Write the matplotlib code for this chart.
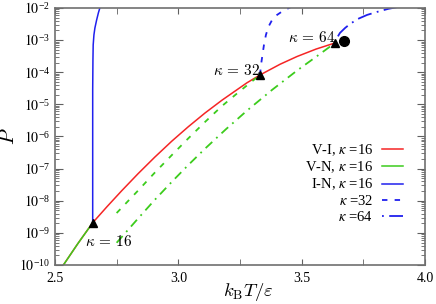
import numpy as np
import matplotlib
matplotlib.use('Agg')
import matplotlib.pyplot as plt
from matplotlib.ticker import MultipleLocator, LogLocator, FuncFormatter, NullFormatter

plt.rcParams['font.family'] = ['Liberation Serif', 'DejaVu Serif']
plt.rcParams['mathtext.fontset'] = 'stix'

# V-I coexistence, kappa = 16 (red), log10(P) vs kB T / eps
vi_T = [2.534, 2.593, 2.653, 2.711, 2.770, 2.837, 2.905, 2.974, 3.040, 3.108,
        3.177, 3.278, 3.331, 3.412, 3.481, 3.558, 3.635]
vi_logP = [-10.0, -9.33, -8.683, -8.183, -7.692, -7.156, -6.639, -6.142, -5.699, -5.270,
           -4.870, -4.330, -4.086, -3.754, -3.512, -3.281, -3.090]

# V-N kappa = 16 (green solid)
vn16_T = [2.534, 2.593, 2.653]
vn16_logP = [-10.0, -9.33, -8.683]

# V-N kappa = 32 (green dashed)
vn32_T = [2.750, 2.837, 2.905, 2.974, 3.040, 3.108, 3.177, 3.250, 3.331]
vn32_logP = [-8.381, -7.681, -7.121, -6.576, -6.062, -5.549, -5.051, -4.584, -4.086]

# V-N kappa = 64 (green dash-dot)
vn64_T = [2.750, 2.837, 2.905, 2.974, 3.040, 3.108, 3.193, 3.278, 3.380, 3.481, 3.558, 3.635]
vn64_logP = [-9.306, -8.549, -7.967, -7.407, -6.890, -6.380, -5.773, -5.197, -4.549, -3.949,
             -3.522, -3.090]

# I-N kappa = 16 (blue solid)
in16_T = [2.653, 2.653, 2.653, 2.654, 2.655, 2.658, 2.662, 2.669, 2.676, 2.682, 2.687]
in16_logP = [-8.683, -6.420, -4.553, -3.619, -3.152, -2.840, -2.623, -2.374, -2.156, -2.0, -1.94]

# I-N kappa = 32 (blue dashed)
in32_T = [3.331, 3.335, 3.341, 3.347, 3.355, 3.365, 3.380, 3.400, 3.424, 3.449, 3.473]
in32_logP = [-4.086, -3.774, -3.463, -3.152, -2.840, -2.591, -2.374, -2.218, -2.093, -2.0, -1.92]

# I-N kappa = 64 (blue dash-dot)
in64_T = [3.635, 3.643, 3.655, 3.676, 3.696, 3.728, 3.765, 3.805, 3.850, 3.890]
in64_logP = [-3.090, -2.934, -2.778, -2.623, -2.498, -2.342, -2.218, -2.125, -2.031, -1.97]

# triple points and critical point
tri_T = [2.653, 3.331, 3.635]
tri_logP = [-8.683, -4.086, -3.090]
crit_T = [3.672]
crit_logP = [-3.027]

red = '#f52525'
green = '#3ccc1c'
blue = '#2020ee'

fig = plt.figure(figsize=(4.36, 3.04), dpi=100)
ax = fig.add_axes([0.126, 0.128, 0.849, 0.846])

P = lambda l: 10.0 ** np.array(l)

ax.plot(vi_T, P(vi_logP), color=red, lw=1.1, label=r'V-I, $\kappa$ =16')
ax.plot(vn16_T, P(vn16_logP), color=green, lw=1.1, label=r'V-N, $\kappa$ =16')
ax.plot(in16_T, P(in16_logP), color=blue, lw=1.1, label=r'I-N, $\kappa$ =16')
ax.plot(vn32_T, P(vn32_logP), color=green, lw=1.3, dashes=(3, 4))
ax.plot(vn64_T, P(vn64_logP), color=green, lw=1.3, dashes=(5, 3, 1, 3))
ax.plot(in32_T, P(in32_logP), color=blue, lw=1.3, dashes=(3, 4), label=r'$\kappa$ =32')
ax.plot(in64_T, P(in64_logP), color=blue, lw=1.3, dashes=(1, 3, 8, 3), label=r'$\kappa$ =64')
ax.plot(tri_T, P(tri_logP), '^', color='black', ms=5.5, ls='none')
ax.plot(crit_T, P(crit_logP), 'o', color='black', ms=7, ls='none')

ax.text(2.622, 10 ** -9.26, r'$\kappa\,=\,16$', fontsize=11, va='center', ha='left', math_fontfamily='cm')
ax.text(3.142, 10 ** -3.95, r'$\kappa\,=\,32$', fontsize=11, va='center', ha='left', math_fontfamily='cm')
ax.text(3.446, 10 ** -2.92, r'$\kappa\,=\,64$', fontsize=11, va='center', ha='left', math_fontfamily='cm')

ax.set_yscale('log')
ax.set_xlim(2.5, 4.0)
ax.set_ylim(1e-10, 1e-2)
ax.xaxis.set_major_locator(MultipleLocator(0.5))
ax.xaxis.set_minor_locator(MultipleLocator(0.25))
ax.xaxis.set_major_formatter(FuncFormatter(lambda v, p: '%.1f' % v))
ax.yaxis.set_major_locator(LogLocator(base=10, numticks=20))
ax.yaxis.set_minor_locator(LogLocator(base=10, subs=np.arange(2, 10), numticks=20))
ax.yaxis.set_minor_formatter(NullFormatter())
ax.yaxis.set_major_formatter(FuncFormatter(lambda v, p: r'$10^{\mathregular{%d}}$' % round(np.log10(v))))
ax.tick_params(which='both', direction='in', top=True, right=True, labelsize=10, color='#606060')
ax.tick_params(axis='x', which='both', length=4)
ax.tick_params(axis='y', which='major', length=6)
ax.tick_params(axis='y', which='minor', length=3)
ax.tick_params(axis='x', pad=5)
for s in ax.spines.values():
    s.set_color('#707070')
    s.set_linewidth(1.2)

ax.set_xlabel(r'$k_{\mathrm{B}}T/\varepsilon$', fontsize=13.5, math_fontfamily='cm')
ax.xaxis.set_label_coords(0.5216, -0.06)
ax.set_ylabel(r'$P$', fontsize=15, math_fontfamily='cm')
ax.yaxis.set_label_coords(-0.097, 0.5)

leg = ax.legend(loc='lower right', bbox_to_anchor=(0.9405, 0.16), frameon=False, fontsize=10.5,
                markerfirst=False, handlelength=1.45, handletextpad=0.6, labelspacing=0.12,
                borderpad=0, borderaxespad=0)
for vp in leg._legend_handle_box.get_children():
    vp.align = 'right'

fig.savefig('out.png', dpi=100)
